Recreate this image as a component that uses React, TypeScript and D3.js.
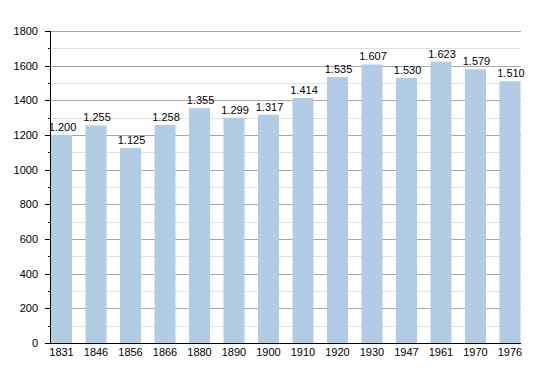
import React from 'react'
import { scaleBand, scaleLinear, range } from 'd3'

const years = ['1831', '1846', '1856', '1866', '1880', '1890', '1900', '1910', '1920', '1930', '1947', '1961', '1970', '1976']
const population = [1200, 1255, 1125, 1258, 1355, 1299, 1317, 1414, 1535, 1607, 1530, 1623, 1579, 1510]
const yTicks = [0, 200, 400, 600, 800, 1000, 1200, 1400, 1600, 1800]

const width = 550
const height = 373
const left = 50
const right = 521
const top = 31
const bottom = 343
const font = 'Liberation Sans, Arial, Helvetica, sans-serif'

const fmt = (v: number) => {
  const s = String(v)
  return s.length > 3 ? s.slice(0, s.length - 3) + '.' + s.slice(-3) : s
}

export default function App() {
  const x = scaleBand()
    .domain(years)
    .range([left + 1, right - 0.5])
    .paddingInner(0.39)
    .paddingOuter(0)

  const y = scaleLinear().domain([0, 1800]).range([bottom, top])
  const minor = range(100, 1800, 200)

  return (
    <svg width={width} height={height} style={{ position: 'absolute', left: 0, top: 0 }}>
      <rect width={width} height={height} fill="#fff" />
      {minor.map(v => (
        <line key={'m' + v} x1={left} x2={right} y1={Math.round(y(v)) + 0.5} y2={Math.round(y(v)) + 0.5} stroke="#e2e2e2" />
      ))}
      {yTicks.slice(1).map(v => (
        <line key={'g' + v} x1={left} x2={right} y1={Math.round(y(v)) + 0.5} y2={Math.round(y(v)) + 0.5} stroke="#a8a8a8" />
      ))}
      {years.map((yr, i) => (
        <rect key={yr} x={x(yr)} y={y(population[i])} width={x.bandwidth()} height={bottom - y(population[i])} fill="#b3cce6" />
      ))}
      {years.map((yr, i) => (
        <text key={'l' + yr} x={(x(yr) ?? 0) + x.bandwidth() / 2 + 1} y={y(population[i]) - 4} textAnchor="middle" fontFamily={font} fontSize={11} fill="#000">
          {fmt(population[i])}
        </text>
      ))}
      {minor.map(v => (
        <line key={'mt' + v} x1={left - 2} x2={left} y1={Math.round(y(v)) + 0.5} y2={Math.round(y(v)) + 0.5} stroke="#000" />
      ))}
      {yTicks.map(v => (
        <g key={'t' + v}>
          <line x1={left - 5} x2={left} y1={Math.round(y(v)) + 0.5} y2={Math.round(y(v)) + 0.5} stroke="#000" />
          <text x={left - 12} y={y(v) + 4} textAnchor="end" fontFamily={font} fontSize={11} fill="#000">{v}</text>
        </g>
      ))}
      <line x1={left + 0.5} x2={left + 0.5} y1={top} y2={bottom} stroke="#000" />
      <line x1={left} x2={right} y1={bottom + 0.5} y2={bottom + 0.5} stroke="#000" />
      {years.map(yr => (
        <text key={'x' + yr} x={(x(yr) ?? 0) + x.bandwidth() / 2} y={bottom + 13} textAnchor="middle" fontFamily={font} fontSize={11} fill="#000">
          {yr}
        </text>
      ))}
    </svg>
  )
}
